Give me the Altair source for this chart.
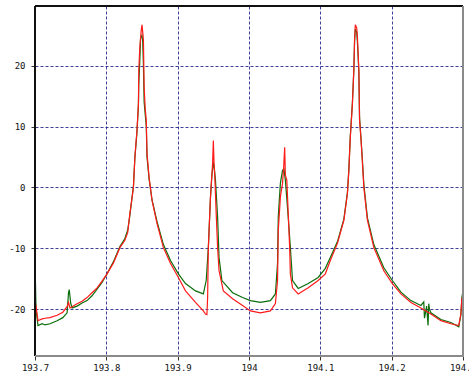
import altair as alt
import pandas as pd

# Frequency axis (THz) and level (dB) for the two traces
red_x = [193.700, 193.7014, 193.7042, 193.710, 193.714, 193.721, 193.731, 193.739, 193.745,
         193.747, 193.749, 193.752, 193.759, 193.766, 193.773, 193.780, 193.787, 193.794,
         193.801, 193.810, 193.819, 193.826, 193.830, 193.833, 193.838, 193.840, 193.843,
         193.845, 193.8455, 193.847, 193.849, 193.850, 193.851, 193.852, 193.853, 193.8545,
         193.856, 193.857, 193.860, 193.864, 193.871, 193.880, 193.890, 193.901, 193.911, 193.925,
         193.936, 193.939, 193.941, 193.942, 193.943, 193.946, 193.949, 193.950, 193.951,
         193.9525, 193.954, 193.956, 193.958, 193.964, 193.977, 193.991, 194.002, 194.016,
         194.030, 194.037, 194.040, 194.041, 194.044, 194.047, 194.0485, 194.050, 194.051,
         194.053, 194.055, 194.057, 194.058, 194.061, 194.069, 194.083, 194.097, 194.107,
         194.114, 194.124, 194.133, 194.138, 194.140, 194.142, 194.145, 194.147, 194.148,
         194.149, 194.151, 194.152, 194.154, 194.155, 194.157, 194.159, 194.161, 194.166, 194.175,
         194.189, 194.201, 194.213, 194.227, 194.241, 194.255, 194.269, 194.283, 194.294,
         194.297, 194.2985, 194.300]
red_y = [-18.6, -19.5, -21.9, -21.6, -21.5, -21.4, -21.0, -20.5, -19.6,
         -18.9, -19.8, -19.6, -19.1, -18.7, -18.1, -17.3, -16.5, -15.4,
         -14.2, -12.4, -9.9, -8.7, -7.4, -4.3, 0.0, 5.0, 9.4,
         13.8, 19.3, 23.1, 25.9, 26.7, 25.5, 24.2, 16.5, 13.0,
         11.0, 5.6, 1.6, -2.1, -5.9, -9.9, -12.5, -14.8, -17.0, -18.9,
         -20.3, -20.8, -20.9, -18.1, -9.9, -1.6, 4.0, 7.7, 4.0,
         0.5, -4.3, -9.9, -13.7, -17.0, -18.3, -19.4, -20.3, -20.6,
         -20.3, -19.1, -15.3, -7.1, -1.6, 0.7, 3.0, 6.6, 2.0,
         1.2, -4.3, -9.9, -14.2, -16.5, -17.5, -16.5, -15.3, -14.2,
         -12.0, -9.2, -5.4, -1.0, 2.8, 8.2, 13.8, 19.3, 24.2,
         26.7, 26.2, 24.7, 19.3, 11.0, 8.0, 4.0, 0.0, -5.4, -9.9,
         -13.7, -15.8, -17.5, -18.9, -19.8, -20.8, -21.9, -22.4, -22.7,
         -20.8, -18.1, -18.6]

green_x = [193.700, 193.7007, 193.7014, 193.7042, 193.710, 193.714, 193.721, 193.731, 193.739,
           193.745, 193.747, 193.748, 193.750, 193.752, 193.759, 193.766, 193.773, 193.780,
           193.787, 193.794, 193.801, 193.810, 193.819, 193.826, 193.830, 193.833, 193.838,
           193.840, 193.843, 193.845, 193.8455, 193.847, 193.848, 193.850, 193.851, 193.852,
           193.853, 193.856, 193.857, 193.860, 193.864, 193.871, 193.880, 193.890, 193.901,
           193.911, 193.925, 193.936, 193.940, 193.943, 193.946, 193.948, 193.950, 193.9515,
           193.953, 193.956, 193.958, 193.962, 193.977, 193.991, 194.002, 194.016, 194.030,
           194.037, 194.040, 194.041, 194.044, 194.047, 194.049, 194.051, 194.055, 194.058,
           194.061, 194.069, 194.083, 194.097, 194.107, 194.114, 194.124, 194.133, 194.138,
           194.140, 194.142, 194.145, 194.147, 194.148, 194.149, 194.151, 194.152, 194.154,
           194.155, 194.159, 194.161, 194.166, 194.175, 194.189, 194.201, 194.213, 194.227,
           194.241, 194.245, 194.246, 194.249, 194.251, 194.252, 194.253, 194.255, 194.269,
           194.283, 194.294, 194.297, 194.2985, 194.300]
green_y = [-16.0, -15.8, -20.0, -22.7, -22.4, -22.6, -22.4, -21.9, -21.4,
           -20.6, -17.3, -16.8, -19.0, -19.8, -19.5, -19.0, -18.6, -17.8,
           -16.7, -15.6, -14.2, -12.2, -9.7, -8.4, -7.0, -4.6, 0.2,
           4.8, 9.2, 13.5, 17.0, 21.0, 24.5, 25.0, 24.0, 20.0,
           14.0, 10.0, 5.0, 1.3, -2.0, -5.6, -9.4, -12.0, -14.2,
           -15.8, -17.0, -17.5, -15.3, -9.9, -1.6, 2.0, 4.1, 3.0,
           1.2, -4.9, -11.5, -15.3, -17.3, -18.1, -18.6, -18.9, -18.6,
           -17.5, -12.5, -4.9, 0.7, 2.8, 3.0, 1.2, -4.9, -9.9,
           -15.3, -16.6, -15.8, -14.8, -13.3, -11.5, -8.9, -5.2, -0.8,
           3.0, 8.4, 14.0, 19.5, 24.0, 26.0, 25.5, 23.8, 19.0,
           11.5, 4.5, 0.5, -5.0, -9.4, -13.2, -15.3, -17.2, -18.6,
           -19.4, -18.8, -21.5, -19.5, -22.7, -19.1, -20.0, -20.6, -21.7,
           -22.2, -22.9, -21.0, -18.0, -17.0]

x_ticks = [193.7, 193.8, 193.9, 194.0, 194.1, 194.2, 194.3]
y_ticks = [-20, -10, 0, 10, 20]

W, H = 428, 350
FONT = "DejaVu Sans Mono"

red = pd.DataFrame({"f": red_x, "level": red_y})
green = pd.DataFrame({"f": green_x, "level": green_y})

x_enc = alt.X(
    "f:Q",
    scale=alt.Scale(domain=[193.7, 194.3], nice=False, zero=False),
    axis=alt.Axis(
        values=x_ticks, title=None, domain=False, grid=True,
        gridColor="#1c1c8c", gridOpacity=0.85, gridDash=[3, 2], gridWidth=1,
        tickSize=4, tickColor="#333", labelFont=FONT, labelFontSize=9,
        labelColor="#111", labelPadding=3, labelFlush=False,
        labelExpr="replace(format(datum.value, '.1~f'), '\u2212', '-')",
    ),
)
y_enc = alt.Y(
    "level:Q",
    scale=alt.Scale(domain=[-27.7, 29.8], nice=False, zero=False),
    axis=alt.Axis(
        values=y_ticks, title=None, domain=False, grid=True,
        gridColor="#1c1c8c", gridOpacity=0.85, gridDash=[3, 2], gridWidth=1,
        tickSize=4, tickColor="#333", labelFont=FONT, labelFontSize=9,
        labelColor="#111", labelPadding=6,
        labelExpr="replace(format(datum.value, 'd'), '\u2212', '-')",
    ),
)

green_line = alt.Chart(green).mark_line(color="#0a6e0a", strokeWidth=1.2, clip=True).encode(
    x=x_enc, y=y_enc
)
red_line = alt.Chart(red).mark_line(color="#ff1a1a", strokeWidth=1.2, clip=True).encode(
    x=x_enc, y=y_enc
)

# Plot frame: dark on the left and top, grey on the right and bottom
one = alt.Data(values=[{}])
frame_left = alt.Chart(one).mark_rule(color="#111", strokeWidth=2).encode(
    x=alt.value(0), y=alt.value(0), y2=alt.value(H))
frame_top = alt.Chart(one).mark_rule(color="#111", strokeWidth=2).encode(
    y=alt.value(0), x=alt.value(0), x2=alt.value(W))
frame_right = alt.Chart(one).mark_rule(color="#8a8a8a", strokeWidth=2).encode(
    x=alt.value(W), y=alt.value(0), y2=alt.value(H))
frame_bottom = alt.Chart(one).mark_rule(color="#8a8a8a", strokeWidth=2).encode(
    y=alt.value(H), x=alt.value(0), x2=alt.value(W))

chart = (
    alt.layer(green_line, red_line, frame_left, frame_top, frame_right, frame_bottom)
    .properties(
        width=W, height=H,
        autosize=alt.AutoSizeParams(type="none"),
        padding={"left": 35, "top": 6, "right": 6, "bottom": 16},
        background="white",
    )
    .configure_view(stroke=None)
)

chart.save("out.html", embed_options={"renderer": "svg", "actions": False})
